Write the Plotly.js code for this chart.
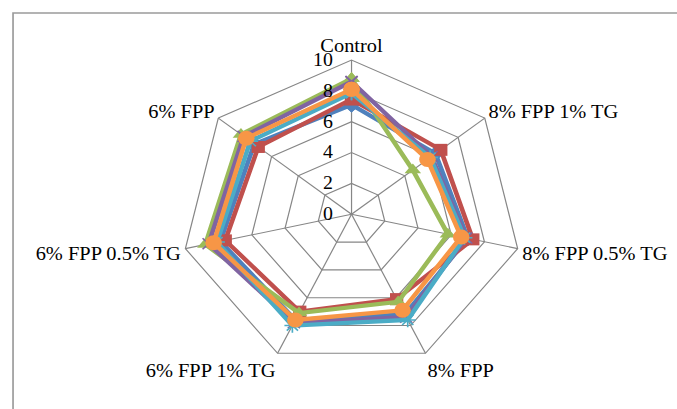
<!DOCTYPE html>
<html>
<head>
<meta charset="utf-8">
<script src="https://cdn.plot.ly/plotly-3.0.1.min.js"></script>
<style>
html,body{margin:0;padding:0;background:#fff;overflow:hidden;width:677px;height:409px;}
#chart{width:613px;height:409px;transform:scaleX(1.1044);transform-origin:0 0;}
</style>
</head>
<body>
<div id="chart"></div>
<script>
// Categories (clockwise from top)
var categories = ["Control", "8% FPP 1% TG", "8% FPP 0.5% TG", "8% FPP", "6% FPP 1% TG", "6% FPP 0.5% TG", "6% FPP"];
var radialTicks = [0, 2, 4, 6, 8, 10];

// Series values
var series1 = [7.1, 6.3, 7.0, 7.2, 7.6, 7.9, 7.3];   // blue diamond
var series2 = [7.45, 6.7, 7.3, 6.1, 7.0, 7.6, 7.0];  // red square
var series3 = [8.8, 4.6, 5.8, 6.3, 7.1, 8.8, 8.3];   // green triangle
var series4 = [8.6, 6.0, 6.9, 7.4, 7.8, 8.6, 8.1];   // purple x
var series5 = [7.85, 5.9, 6.8, 7.6, 8.0, 8.1, 7.6];  // cyan star
var series6 = [8.1, 5.7, 6.6, 6.9, 7.6, 8.3, 7.9];   // orange circle

var seriesNames = ["Series 1", "Series 2", "Series 3", "Series 4", "Series 5", "Series 6"];
var seriesData = [series1, series2, series3, series4, series5, series6];
var colors = ["#4F81BD", "#C0504D", "#9BBB59", "#8064A2", "#4BACC6", "#F79646"];
var symbols = ["diamond", "square", "triangle-up", "x-thin-open", "asterisk-open", "circle"];
var sizes = [12, 12, 13, 11, 12, 15];

var traces = seriesData.map(function (vals, i) {
  return {
    type: "scatterpolar",
    mode: "lines+markers",
    name: seriesNames[i],
    r: vals.concat([vals[0]]),
    theta: categories.concat([categories[0]]),
    line: {color: colors[i], width: 4.2},
    marker: {color: colors[i], symbol: symbols[i], size: sizes[i], line: {color: colors[i], width: (i === 3 || i === 4) ? 1.5 : 0}},
    cliponaxis: false,
    showlegend: false
  };
});

var W = 613, H = 409;
var cx = 318.3, cy = 214.3, R = 154.3;

var layout = {
  width: W,
  height: H,
  margin: {l: 0, r: 0, t: 0, b: 0},
  paper_bgcolor: "#ffffff",
  plot_bgcolor: "#ffffff",
  font: {family: "Liberation Serif, Times New Roman, serif", size: 18, color: "#000000"},
  showlegend: false,
  polar: {
    domain: {x: [(cx - R) / W, (cx + R) / W], y: [1 - (cy + R) / H, 1 - (cy - R) / H]},
    bgcolor: "#ffffff",
    gridshape: "linear",
    radialaxis: {
      range: [0, 10],
      tickvals: radialTicks,
      ticktext: radialTicks.map(String),
      angle: 90,
      tickangle: 90,
      side: "counterclockwise",
      showline: false,
      ticks: "outside",
      ticklen: 10,
      tickcolor: "rgba(0,0,0,0)",
      gridcolor: "#868686",
      gridwidth: 1.1,
      tickfont: {family: "Liberation Serif, Times New Roman, serif", size: 18, color: "#000"}
    },
    angularaxis: {
      direction: "clockwise",
      rotation: 90,
      showline: true,
      linecolor: "#868686",
      linewidth: 1.1,
      gridcolor: "#868686",
      gridwidth: 1.1,
      ticks: "",
      tickfont: {family: "Liberation Serif, Times New Roman, serif", size: 18.5, color: "#000"}
    }
  },
  shapes: [{
    type: "rect", xref: "paper", yref: "paper",
    x0: 11.8 / W, x1: 1.1, y0: -0.1, y1: 1 - 13 / H,
    line: {color: "#9a9a9a", width: 1.5}, fillcolor: "rgba(0,0,0,0)"
  }]
};

Plotly.newPlot("chart", traces, layout, {staticPlot: true, displayModeBar: false});
</script>
</body>
</html>
